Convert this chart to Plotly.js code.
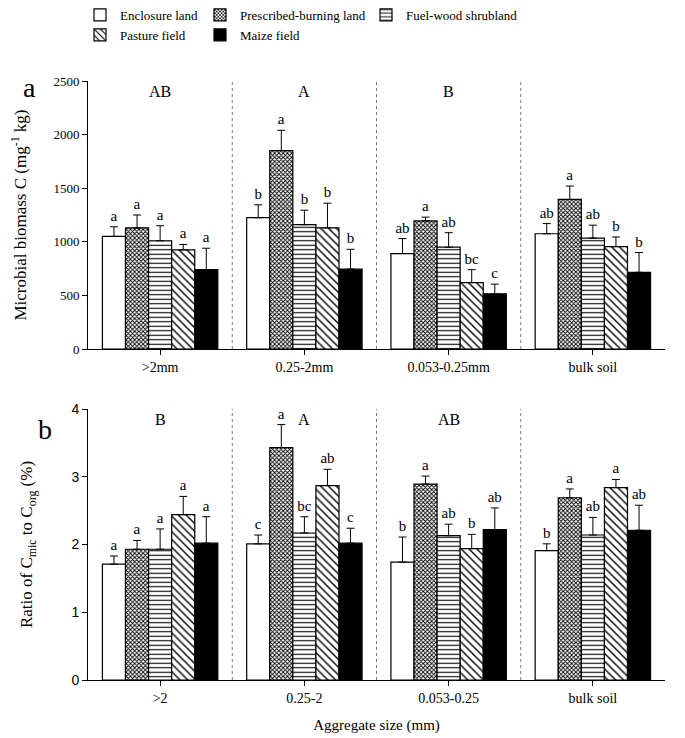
<!DOCTYPE html>
<html>
<head>
<meta charset="utf-8">
<script src="https://cdn.plot.ly/plotly-3.0.1.min.js"></script>
<style>
  body { margin: 0; background: #fff; }
  #chart { width: 685px; height: 738px; }
</style>
</head>
<body>
<div id="chart"></div>
<script>
// aggregate size classes (tick labels differ between panels)
const groupsTop = ['>2mm', '0.25-2mm', '0.053-0.25mm', 'bulk soil'];
const groupsBottom = ['>2', '0.25-2', '0.053-0.25', 'bulk soil'];
const landUses = ['Enclosure land', 'Prescribed-burning land', 'Fuel-wood shrubland', 'Pasture field', 'Maize field'];

// panel a: microbial biomass C (mg/kg)
const mbcEnclosure = [1050, 1225, 890, 1075];
const mbcPrescribed = [1130, 1850, 1195, 1395];
const mbcFuelwood = [1010, 1160, 950, 1035];
const mbcPasture = [925, 1130, 620, 955];
const mbcMaize = [740, 745, 515, 715];

const mbcErrEnclosure = [90, 120, 140, 95];
const mbcErrPrescribed = [120, 190, 35, 125];
const mbcErrFuelwood = [140, 135, 135, 120];
const mbcErrPasture = [50, 230, 120, 90];
const mbcErrMaize = [200, 185, 90, 185];

const mbcLetEnclosure = ['a', 'b', 'ab', 'ab'];
const mbcLetPrescribed = ['a', 'a', 'a', 'a'];
const mbcLetFuelwood = ['a', 'b', 'ab', 'ab'];
const mbcLetPasture = ['a', 'b', 'bc', 'b'];
const mbcLetMaize = ['a', 'b', 'c', 'b'];
const mbcGroupLetters = ['AB', 'A', 'B', ''];

// panel b: ratio of Cmic to Corg (%)
const ratioEnclosure = [1.71, 2.01, 1.74, 1.91];
const ratioPrescribed = [1.93, 3.43, 2.89, 2.69];
const ratioFuelwood = [1.93, 2.17, 2.13, 2.14];
const ratioPasture = [2.44, 2.87, 1.94, 2.84];
const ratioMaize = [2.02, 2.02, 2.22, 2.21];

const ratioErrEnclosure = [0.12, 0.13, 0.37, 0.10];
const ratioErrPrescribed = [0.13, 0.34, 0.12, 0.13];
const ratioErrFuelwood = [0.30, 0.24, 0.17, 0.26];
const ratioErrPasture = [0.27, 0.24, 0.21, 0.12];
const ratioErrMaize = [0.39, 0.22, 0.32, 0.37];

const ratioLetEnclosure = ['a', 'c', 'b', 'b'];
const ratioLetPrescribed = ['a', 'a', 'a', 'a'];
const ratioLetFuelwood = ['a', 'bc', 'ab', 'ab'];
const ratioLetPasture = ['a', 'ab', 'b', 'a'];
const ratioLetMaize = ['a', 'c', 'ab', 'ab'];
const ratioGroupLetters = ['B', 'A', 'AB', ''];

const serif = 'Liberation Serif';

const fills = [
    {color: 'white', pattern: {shape: ''}},
    {color: 'white', pattern: {shape: 'x', size: 3, solidity: 0.5, fgcolor: 'black', bgcolor: 'white'}},
    {color: 'white', pattern: {shape: '-', size: 4.5, solidity: 0.25, fgcolor: 'black', bgcolor: 'white'}},
    {color: 'white', pattern: {shape: '\\', size: 5.5, solidity: 0.25, fgcolor: 'black', bgcolor: 'white'}},
    {color: 'black', pattern: {shape: ''}}
];
// legend column for each land use (two rows in the reference)
const legendOf = ['legend', 'legend2', 'legend3', 'legend', 'legend2'];

const mbcVals = [mbcEnclosure, mbcPrescribed, mbcFuelwood, mbcPasture, mbcMaize];
const mbcErrs = [mbcErrEnclosure, mbcErrPrescribed, mbcErrFuelwood, mbcErrPasture, mbcErrMaize];
const mbcLets = [mbcLetEnclosure, mbcLetPrescribed, mbcLetFuelwood, mbcLetPasture, mbcLetMaize];
const ratioVals = [ratioEnclosure, ratioPrescribed, ratioFuelwood, ratioPasture, ratioMaize];
const ratioErrs = [ratioErrEnclosure, ratioErrPrescribed, ratioErrFuelwood, ratioErrPasture, ratioErrMaize];
const ratioLets = [ratioLetEnclosure, ratioLetPrescribed, ratioLetFuelwood, ratioLetPasture, ratioLetMaize];

const traces = [];

function addPanel(cats, vals, errs, lets, xa, ya, withLegend) {
    for (let i = 0; i < landUses.length; i++) {
        traces.push({
            type: 'bar',
            x: cats, y: vals[i],
            xaxis: xa, yaxis: ya,
            name: landUses[i],
            offsetgroup: 'g' + i,
            showlegend: withLegend,
            legend: legendOf[i],
            marker: {
                color: fills[i].color,
                pattern: fills[i].pattern,
                line: {color: 'black', width: 1.2}
            },
            error_y: {
                type: 'data', symmetric: false,
                array: errs[i], arrayminus: errs[i].map(() => 0),
                color: 'black', thickness: 1, width: 4
            },
            hoverinfo: 'skip'
        });
    }
    // invisible bars reaching the error-bar tip, carrying the letters
    for (let i = 0; i < landUses.length; i++) {
        traces.push({
            type: 'bar',
            x: cats, y: vals[i].map((v, k) => v + errs[i][k]),
            xaxis: xa, yaxis: ya,
            offsetgroup: 'g' + i,
            showlegend: false,
            marker: {color: 'rgba(0,0,0,0)', line: {width: 0}},
            text: lets[i],
            textposition: 'outside',
            constraintext: 'none',
            cliponaxis: false,
            textfont: {family: serif, size: 15, color: 'black'},
            hoverinfo: 'skip'
        });
    }
}

addPanel(groupsTop, mbcVals, mbcErrs, mbcLets, 'x', 'y', true);
addPanel(groupsBottom, ratioVals, ratioErrs, ratioLets, 'x2', 'y2', false);

const sepPos = [0.5, 1.5, 2.5];
const shapes = [];
[['x', 'y'], ['x2', 'y2']].forEach(([xa, ya]) => {
    sepPos.forEach(s => {
        shapes.push({type: 'line', xref: xa, yref: ya + ' domain', x0: s, x1: s, y0: 0, y1: 1,
            line: {color: '#777', width: 1, dash: 'dot'}});
    });
    sepPos.concat([3.5]).forEach(s => {
        shapes.push({type: 'line', xref: xa, yref: ya, ysizemode: 'pixel', yanchor: 0,
            x0: s, x1: s, y0: 0, y1: -5, line: {color: 'black', width: 1}});
    });
});

const annotations = [];
groupsTop.forEach((c, k) => {
    if (mbcGroupLetters[k]) annotations.push({
        xref: 'x', yref: 'y domain', x: c, y: 1, yanchor: 'top', showarrow: false,
        text: mbcGroupLetters[k], font: {family: serif, size: 16, color: 'black'}
    });
});
groupsBottom.forEach((c, k) => {
    if (ratioGroupLetters[k]) annotations.push({
        xref: 'x2', yref: 'y2 domain', x: c, y: 1, yanchor: 'top', showarrow: false,
        text: ratioGroupLetters[k], font: {family: serif, size: 16, color: 'black'}
    });
});
annotations.push({xref: 'paper', yref: 'paper', x: 29 / 685, y: 1 - 88 / 738,
    xanchor: 'center', yanchor: 'middle', showarrow: false,
    text: 'a', font: {family: serif, size: 28, color: 'black'}});
annotations.push({xref: 'paper', yref: 'paper', x: 45 / 685, y: 1 - 429 / 738,
    xanchor: 'center', yanchor: 'middle', showarrow: false,
    text: 'b', font: {family: serif, size: 28, color: 'black'}});

const xCommon = {
    type: 'category', range: [-0.5, 3.5], domain: [88 / 685, 665 / 685],
    showline: true, linecolor: 'black', linewidth: 1,
    ticks: 'outside', ticklen: 5, tickcolor: 'black',
    showgrid: false, zeroline: false, automargin: false,
    tickfont: {family: serif, size: 14, color: 'black'}
};
const yCommon = {
    showline: true, linecolor: 'black', linewidth: 1,
    ticks: 'outside', ticklen: 5, tickcolor: 'black',
    showgrid: false, zeroline: false, automargin: false
};
const legendCommon = {
    orientation: 'v', xanchor: 'left', y: 1, yanchor: 'top', tracegroupgap: 0,
    font: {family: serif, size: 13, color: 'black'}, bgcolor: 'rgba(0,0,0,0)'
};

const layout = {
    width: 685, height: 738,
    margin: {l: 0, r: 0, t: 0, b: 0},
    paper_bgcolor: 'white', plot_bgcolor: 'white',
    barmode: 'group', bargap: 0.2, bargroupgap: 0,
    font: {family: serif, color: 'black'},
    xaxis: Object.assign({}, xCommon, {anchor: 'y'}),
    yaxis: Object.assign({}, yCommon, {
        anchor: 'x', domain: [1 - 349 / 738, 1 - 81 / 738], range: [0, 2500], dtick: 500,
        tickfont: {family: serif, size: 13, color: 'black'},
        title: {text: 'Microbial biomass C (mg<sup>-1</sup> kg)', standoff: 22,
            font: {family: serif, size: 17, color: 'black'}}
    }),
    xaxis2: Object.assign({}, xCommon, {
        anchor: 'y2',
        title: {text: 'Aggregate size (mm)', standoff: 14, font: {family: serif, size: 15, color: 'black'}}
    }),
    yaxis2: Object.assign({}, yCommon, {
        anchor: 'x2', domain: [1 - 680 / 738, 1 - 409 / 738], range: [0, 4], dtick: 1,
        tickfont: {family: 'Liberation Sans', size: 14, color: 'black'},
        title: {text: 'Ratio of C<sub>mic</sub> to C<sub>org</sub> (%)', standoff: 34,
            font: {family: serif, size: 17, color: 'black'}}
    }),
    legend: Object.assign({}, legendCommon, {x: 80 / 685}),
    legend2: Object.assign({}, legendCommon, {x: 200 / 685}),
    legend3: Object.assign({}, legendCommon, {x: 366 / 685}),
    shapes: shapes,
    annotations: annotations
};

Plotly.newPlot('chart', traces, layout, {displayModeBar: false, staticPlot: true});
</script>
</body>
</html>
